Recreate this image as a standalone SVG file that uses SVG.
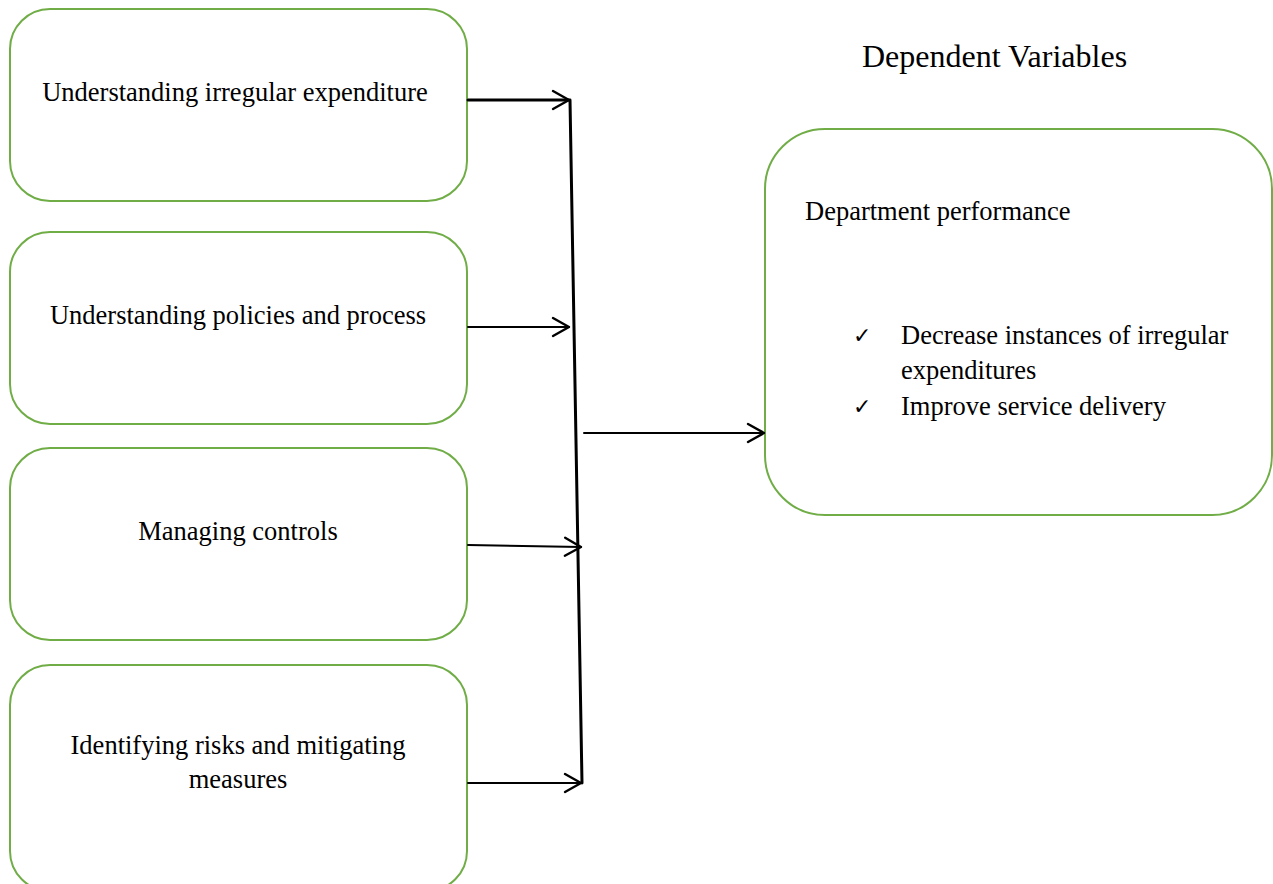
<svg xmlns="http://www.w3.org/2000/svg" width="1273" height="884" viewBox="0 0 1273 884">
<style>
.box{fill:#fff;stroke:#70AD47;stroke-width:2}
.t{font-family:"Liberation Serif",serif;font-size:26.5px;fill:#000}
.c{stroke:#000;fill:none;stroke-linecap:round;stroke-linejoin:round}
.ck{font-family:"DejaVu Sans",sans-serif;font-size:22px;fill:#000}
</style>
<defs>
<marker id="ah" viewBox="0 0 24 24" refX="21" refY="12" markerWidth="24" markerHeight="24" markerUnits="userSpaceOnUse" orient="auto">
<path d="M5,3 L21,12 L5,21" fill="none" stroke="#000" stroke-width="2.4" stroke-linecap="round" stroke-linejoin="round"/>
</marker>
</defs>
<rect width="1273" height="884" fill="#fff"/>
<text class="t" x="862" y="67" style="font-size:32px">Dependent Variables</text>
<g id="n1"><rect class="box" x="10" y="9" width="457" height="192" rx="40"/><text class="t" x="235" y="101" text-anchor="middle">Understanding irregular expenditure</text></g>
<g id="n2"><rect class="box" x="10" y="232" width="457" height="192" rx="40"/><text class="t" x="238" y="324" text-anchor="middle">Understanding policies and process</text></g>
<g id="n3"><rect class="box" x="10" y="448" width="457" height="192" rx="40"/><text class="t" x="238" y="540" text-anchor="middle">Managing controls</text></g>
<g id="n4"><rect class="box" x="10" y="665" width="457" height="226" rx="40"/><text class="t" x="238" y="754" text-anchor="middle">Identifying risks and mitigating</text><text class="t" x="238" y="788" text-anchor="middle">measures</text></g>
<g id="n5"><rect class="box" x="765" y="129" width="507" height="386" rx="60"/>
<text class="t" x="805" y="220">Department performance</text>
<text class="ck" x="853" y="343">✓</text>
<text class="t" x="901" y="344">Decrease instances of irregular</text>
<text class="t" x="901" y="379">expenditures</text>
<text class="ck" x="853" y="414">✓</text>
<text class="t" x="901" y="415">Improve service delivery</text>
</g>
<g id="connectors">
<line class="c" x1="570" y1="100" x2="582" y2="783" stroke-width="3"/>
<line class="c" x1="468" y1="100" x2="569" y2="100" stroke-width="3" marker-end="url(#ah)"/>
<line class="c" x1="468" y1="327" x2="569" y2="327" stroke-width="2" marker-end="url(#ah)"/>
<line class="c" x1="468" y1="545" x2="581" y2="547" stroke-width="2" marker-end="url(#ah)"/>
<line class="c" x1="468" y1="783" x2="581" y2="783" stroke-width="2" marker-end="url(#ah)"/>
<line class="c" x1="584" y1="433" x2="764" y2="433" stroke-width="2" marker-end="url(#ah)"/>
</g>
</svg>
